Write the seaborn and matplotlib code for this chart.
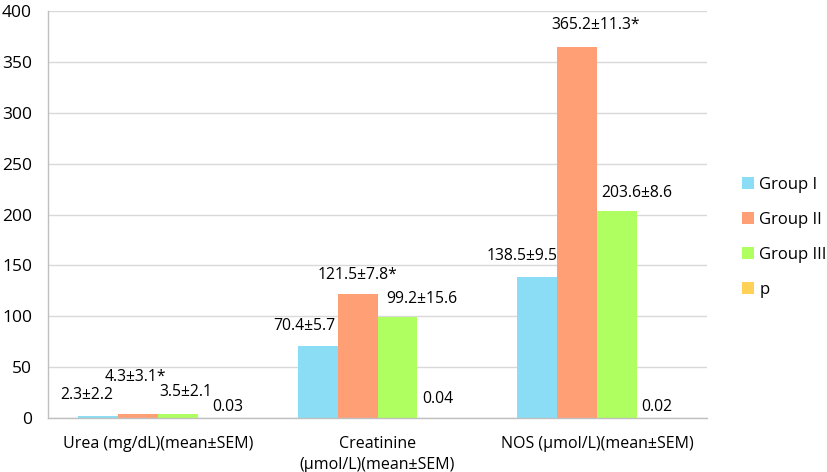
import pandas as pd
import matplotlib
matplotlib.use('Agg')
import matplotlib.pyplot as plt
import seaborn as sns

# --- Data ---
CATEGORIES = ['Urea (mg/dL)(mean±SEM)', 'Creatinine\n(µmol/L)(mean±SEM)', 'NOS (µmol/L)(mean±SEM)']
GROUPS = ['Group I', 'Group II', 'Group III', 'p']
GROUP_I = [2.3, 70.4, 138.5]
GROUP_II = [4.3, 121.5, 365.2]
GROUP_III = [3.5, 99.2, 203.6]
P_VALUES = [0.03, 0.04, 0.02]

LABELS_I = ['2.3±2.2', '70.4±5.7', '138.5±9.5']
LABELS_II = ['4.3±3.1*', '121.5±7.8*', '365.2±11.3*']
LABELS_III = ['3.5±2.1', '99.2±15.6', '203.6±8.6']
LABELS_P = ['0.03', '0.04', '0.02']

COLORS = ['#8ADDF5', '#FF9F76', '#AEFF5F', '#FFD257']

# label nudges (pixels: dx from bar centre, dy above bar top), per group then category
OFFSETS = [
    [(-11, 21), (-13, 20), (-15, 21)],
    [(-2, 37), (0, 19), (18, 22)],
    [(8, 22), (24, 18), (20, 18)],
    [(10, 11), (0, 19), (0, 11)],
]


def build_frame():
    rows = []
    for group, values in zip(GROUPS, [GROUP_I, GROUP_II, GROUP_III, P_VALUES]):
        for cat, v in zip(CATEGORIES, values):
            rows.append({'category': cat, 'group': group, 'value': v})
    return pd.DataFrame(rows)


def main():
    df = build_frame()
    sns.set_theme(style='white')
    plt.rcParams['font.family'] = ['Open Sans', 'DejaVu Sans']
    plt.rcParams['text.color'] = 'black'
    plt.rcParams['xtick.labelcolor'] = 'black'
    plt.rcParams['ytick.labelcolor'] = 'black'

    fig = plt.figure(figsize=(8.27, 4.72), dpi=100)
    ax = fig.add_axes([0.058, 0.1144, 0.797, 0.862])

    sns.barplot(data=df, x='category', y='value', hue='group', palette=COLORS,
                width=0.727, saturation=1, errorbar=None, linewidth=0, ax=ax)

    ax.set_ylim(0, 400)
    ax.set_xlim(-0.5, 2.5)
    ax.set_yticks(range(0, 401, 50))
    ax.yaxis.grid(True, color='#D9D9D9', linewidth=1)
    ax.set_axisbelow(True)
    ax.set_xlabel('')
    ax.set_ylabel('')
    for side in ['top', 'right']:
        ax.spines[side].set_visible(False)
    for side in ['left', 'bottom']:
        ax.spines[side].set_color('#BFBFBF')
        ax.spines[side].set_linewidth(1)

    ax.set_xticks([0, 1, 2])
    ax.set_xticklabels(CATEGORIES, fontsize=11.5, linespacing=1.45)
    ax.tick_params(axis='x', which='major', length=0, pad=13)
    ax.set_xticks([-0.5, 0.5, 1.5, 2.5], minor=True)
    ax.tick_params(axis='x', which='minor', length=6, color='#BFBFBF', width=1)
    ax.tick_params(axis='y', length=4.5, color='#BFBFBF', width=1, labelsize=12.5, pad=7)

    all_labels = [LABELS_I, LABELS_II, LABELS_III, LABELS_P]
    for gi, container in enumerate(ax.containers):
        for ci, bar in enumerate(container):
            dx, dy = OFFSETS[gi][ci]
            ax.annotate(all_labels[gi][ci],
                        (bar.get_x() + bar.get_width() / 2, bar.get_height()),
                        xytext=(dx * 0.72, dy * 0.72), textcoords='offset points',
                        ha='center', va='center', fontsize=11.3, color='black')

    ax.legend(loc='center left', bbox_to_anchor=(1.03, 0.444), frameon=False,
              handlelength=0.7, handleheight=0.7, handletextpad=0.35,
              labelspacing=1.15, fontsize=12)

    fig.savefig('out.png', dpi=100)
    plt.close(fig)


if __name__ == '__main__':
    main()
